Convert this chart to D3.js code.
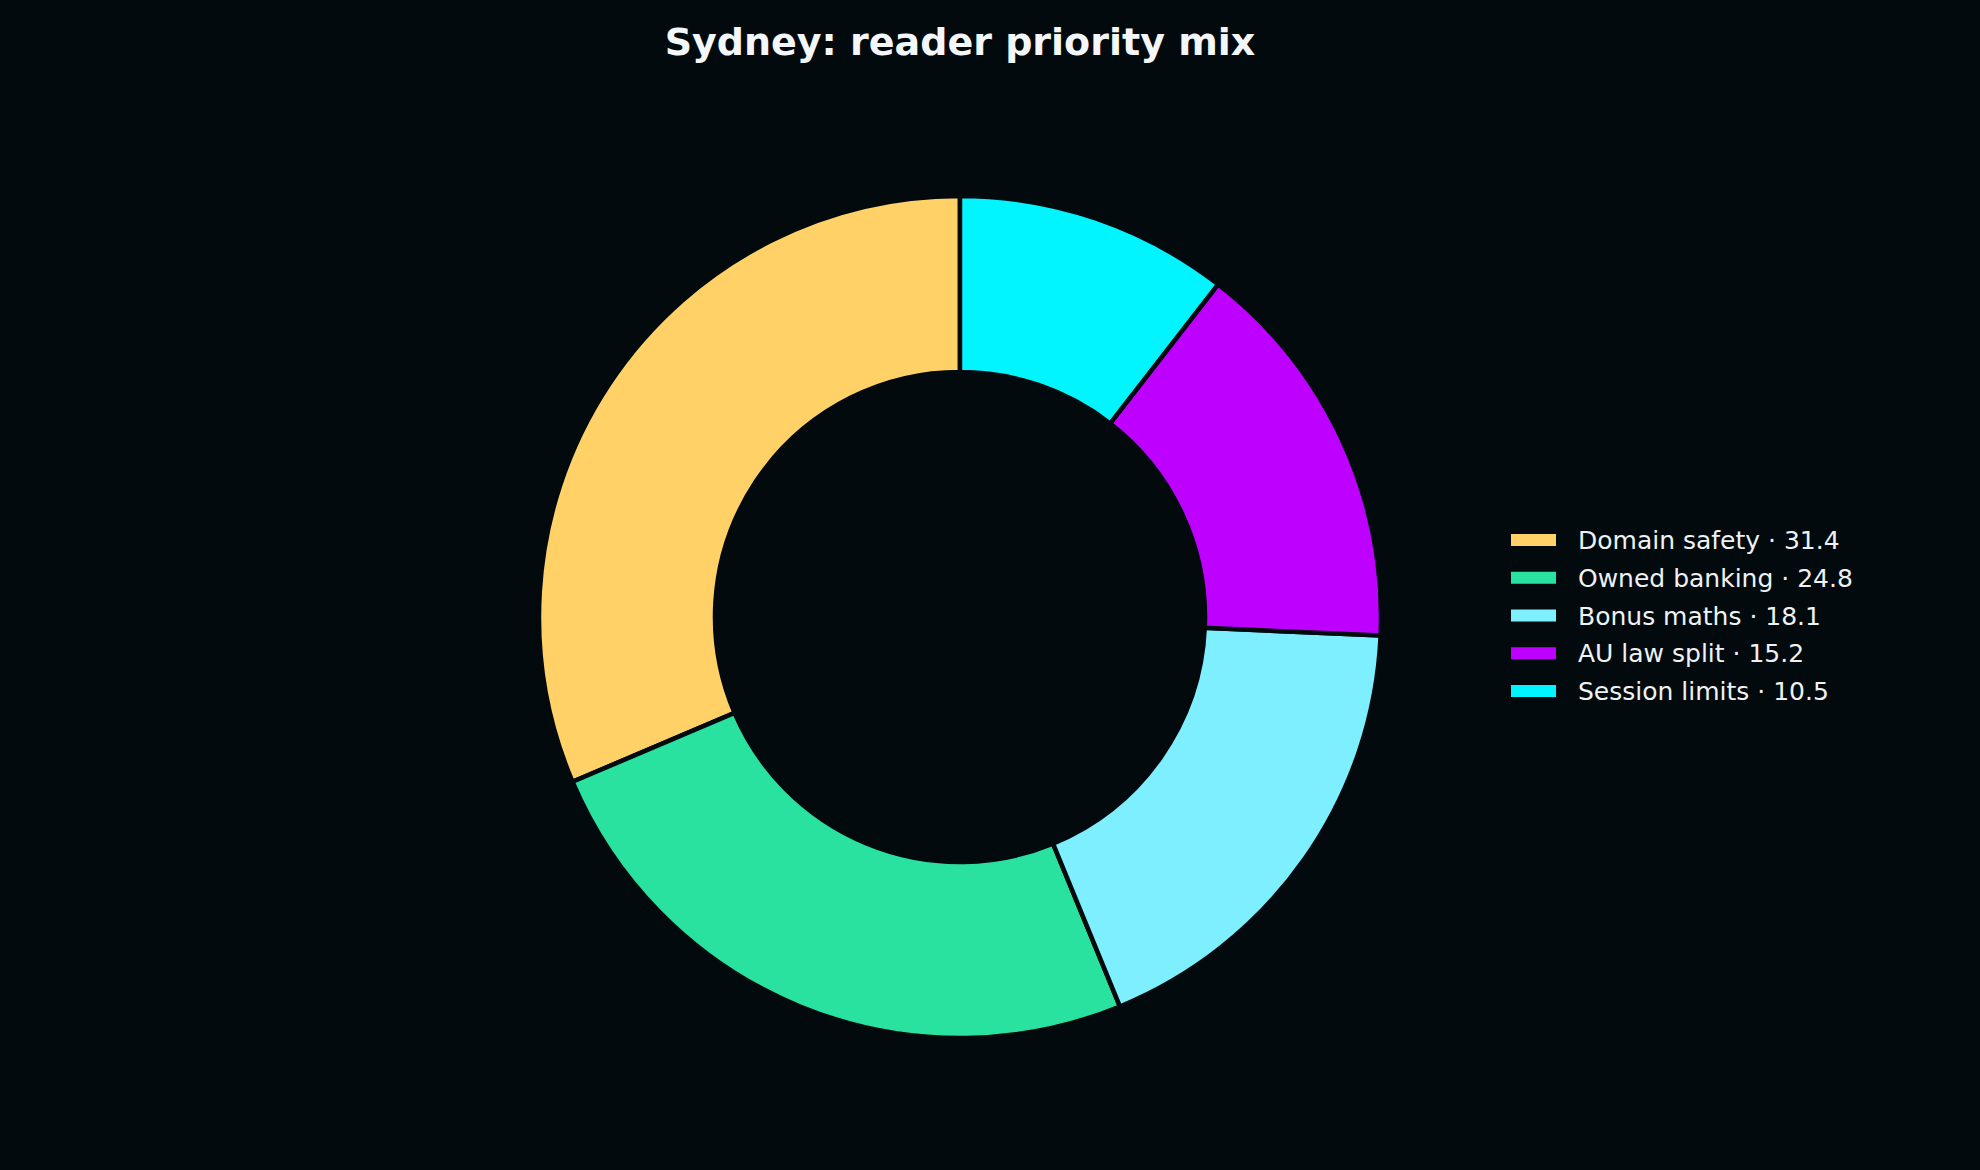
<!DOCTYPE html>
<html>
<head>
<meta charset="utf-8">
<script src="https://cdn.jsdelivr.net/npm/d3@7"></script>
<style>
  html, body { margin: 0; padding: 0; background: #020a0d; }
  svg { display: block; }
</style>
</head>
<body>
<svg id="chart"></svg>
<script>
const categories = ['Domain safety', 'Owned banking', 'Bonus maths', 'AU law split', 'Session limits']
const values = [31.4, 24.8, 18.1, 15.2, 10.5]
const colours = ['#ffd166', '#2ae2a0', '#7eefff', '#bd00ff', '#00f5ff']

const W = 1980, H = 1170
const bg = '#020a0d'
const cx = 960, cy = 617
const outerR = 421, innerR = 245

const svg = d3.select('#chart').attr('width', W).attr('height', H)
svg.append('rect').attr('width', W).attr('height', H).attr('fill', bg)

svg.append('text')
    .attr('x', cx)
    .attr('y', 55)
    .attr('text-anchor', 'middle')
    .attr('font-family', 'DejaVu Sans')
    .attr('font-weight', 'bold')
    .attr('font-size', 38)
    .attr('fill', '#f4f7f9')
    .text('Sydney: reader priority mix')

// matplotlib style: start at 12 o'clock, go counterclockwise
const pie = d3.pie().sort(null).startAngle(0).endAngle(-2 * Math.PI)
const arc = d3.arc().innerRadius(innerR).outerRadius(outerR)

svg.append('g')
    .attr('transform', `translate(${cx},${cy})`)
    .selectAll('path')
    .data(pie(values))
    .join('path')
    .attr('d', arc)
    .attr('fill', (d, i) => colours[i])
    .attr('stroke', bg)
    .attr('stroke-width', 4.5)
    .attr('stroke-linejoin', 'miter')

// legend
const legendY = d3.scaleLinear().domain([0, categories.length - 1]).range([540, 691])
const legend = svg.append('g')
const rows = legend.selectAll('g')
    .data(categories)
    .join('g')
    .attr('transform', (d, i) => `translate(0,${legendY(i)})`)

rows.append('rect')
    .attr('x', 1511)
    .attr('y', -6)
    .attr('width', 45)
    .attr('height', 12)
    .attr('fill', (d, i) => colours[i])

rows.append('text')
    .attr('x', 1578)
    .attr('y', 0)
    .attr('dy', '0.36em')
    .attr('font-family', 'DejaVu Sans')
    .attr('font-size', 25)
    .attr('fill', '#eef2f4')
    .text((d, i) => `${d} · ${values[i]}`)
</script>
</body>
</html>
